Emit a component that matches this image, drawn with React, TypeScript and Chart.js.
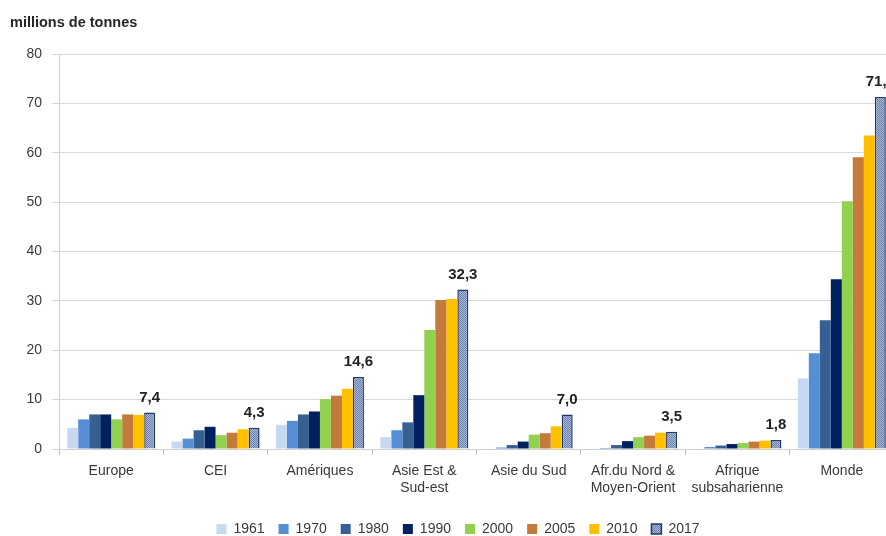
import React, { useEffect, useRef } from "react";
import { Chart, registerables } from "chart.js";

Chart.register(...registerables);

const categories: (string | string[])[] = [
  "Europe",
  "CEI",
  "Amériques",
  ["Asie Est &", "Sud-est"],
  "Asie du Sud",
  ["Afr.du Nord &", "Moyen-Orient"],
  ["Afrique", "subsaharienne"],
  "Monde",
];

const years = ["1961", "1970", "1980", "1990", "2000", "2005", "2010", "2017"];

const v1961 = [4.3, 1.5, 4.9, 2.4, 0.1, 0.1, 0.1, 14.3];
const v1970 = [6.0, 2.1, 5.7, 3.8, 0.3, 0.2, 0.4, 19.4];
const v1980 = [7.0, 3.8, 7.0, 5.4, 0.8, 0.8, 0.7, 26.1];
const v1990 = [7.0, 4.5, 7.6, 10.9, 1.5, 1.6, 1.0, 34.4];
const v2000 = [6.0, 2.8, 10.1, 24.1, 2.9, 2.4, 1.2, 50.2];
const v2005 = [7.0, 3.3, 10.8, 30.2, 3.2, 2.7, 1.5, 59.1];
const v2010 = [6.9, 4.0, 12.2, 30.4, 4.6, 3.3, 1.7, 63.5];
const v2017 = [7.4, 4.3, 14.6, 32.3, 7.0, 3.5, 1.8, 71.3];

const seriesValues = [v1961, v1970, v1980, v1990, v2000, v2005, v2010, v2017];
const seriesColors = ["#c6d9f1", "#558ed5", "#376092", "#002060", "#92d050", "#c47a3a", "#ffc000", "pattern"];

const yTicks = [0, 10, 20, 30, 40, 50, 60, 70, 80];
const yTitle = "millions de tonnes";

function makePattern(): CanvasPattern | string {
  const c = document.createElement("canvas");
  c.width = 2;
  c.height = 2;
  const g = c.getContext("2d");
  if (!g) return "#8a9cc2";
  g.fillStyle = "#a9b8d6";
  g.fillRect(0, 0, 2, 2);
  g.fillStyle = "#6a80b0";
  g.fillRect(0, 0, 1, 1);
  g.fillRect(1, 1, 1, 1);
  const p = g.createPattern(c, "repeat");
  return p || "#8a9cc2";
}

const TEXT = "#3a3a3a";
const FONT = "'Liberation Sans', Arial, sans-serif";

export default function App() {
  const ref = useRef<HTMLCanvasElement | null>(null);

  useEffect(() => {
    if (!ref.current) return;
    const pattern = makePattern();
    const datasets = years.map((y, i) => {
      const isLast = seriesColors[i] === "pattern";
      return {
        label: y,
        data: seriesValues[i],
        backgroundColor: isLast ? pattern : seriesColors[i],
        borderColor: isLast ? "#203864" : seriesColors[i],
        borderWidth: isLast ? 1.5 : 0,
        categoryPercentage: 0.843,
        barPercentage: 1.0,
      };
    });

    const labelPlugin = {
      id: "labels2017",
      afterDatasetsDraw(chart: any) {
        const ctx = chart.ctx;
        const idx = datasets.length - 1;
        const meta = chart.getDatasetMeta(idx);
        ctx.save();
        ctx.font = `bold 15px ${FONT}`;
        ctx.fillStyle = "#222222";
        ctx.textAlign = "center";
        ctx.textBaseline = "middle";
        meta.data.forEach((el: any, j: number) => {
          const val = seriesValues[idx][j];
          ctx.fillText(val.toFixed(1).replace(".", ","), el.x, el.y - 15);
        });
        ctx.restore();
      },
      afterDraw(chart: any) {
        const ctx = chart.ctx;
        ctx.save();
        ctx.font = `bold 14.5px ${FONT}`;
        ctx.fillStyle = "#262626";
        ctx.textAlign = "left";
        ctx.textBaseline = "middle";
        ctx.fillText(yTitle, 10, 23);
        ctx.restore();
      },
    };

    const chart = new Chart(ref.current, {
      type: "bar",
      data: { labels: categories as any, datasets: datasets as any },
      options: {
        responsive: false,
        animation: false,
        layout: { padding: { left: 22, top: 54, right: 16, bottom: 0 } },
        plugins: {
          legend: {
            position: "bottom",
            labels: {
              boxWidth: 10,
              boxHeight: 10,
              padding: 14,
              color: TEXT,
              font: { size: 14, family: FONT },
            },
          },
          tooltip: { enabled: false },
          title: { display: false },
        },
        scales: {
          x: {
            afterFit: (s: any) => {
              s.height = 59;
            },
            grid: {
              drawOnChartArea: false,
              drawTicks: true,
              tickLength: 6,
              color: "#bfbfbf",
              offset: true,
            },
            border: { display: true, color: "#d0d0d0" },
            ticks: {
              autoSkip: false,
              maxRotation: 0,
              minRotation: 0,
              padding: 8,
              color: TEXT,
              font: { size: 14, family: FONT },
            },
          },
          y: {
            min: 0,
            max: 80,
            afterFit: (s: any) => {
              s.width = 37;
            },
            afterBuildTicks: (s: any) => {
              s.ticks = yTicks.map((v) => ({ value: v }));
            },
            grid: {
              color: "#d9d9d9",
              tickLength: 7,
              drawTicks: true,
            },
            border: { display: true, color: "#d0d0d0" },
            ticks: {
              padding: 10,
              color: TEXT,
              font: { size: 14, family: FONT },
            },
          },
        },
      },
      plugins: [labelPlugin],
    });
    return () => chart.destroy();
  }, []);

  return (
    <div
      style={{
        position: "fixed",
        left: 0,
        top: 0,
        width: 886,
        height: 536,
        overflow: "hidden",
        background: "#ffffff",
      }}
    >
      <canvas ref={ref} width={910} height={546} style={{ display: "block", width: 910, height: 546 }} />
    </div>
  );
}
